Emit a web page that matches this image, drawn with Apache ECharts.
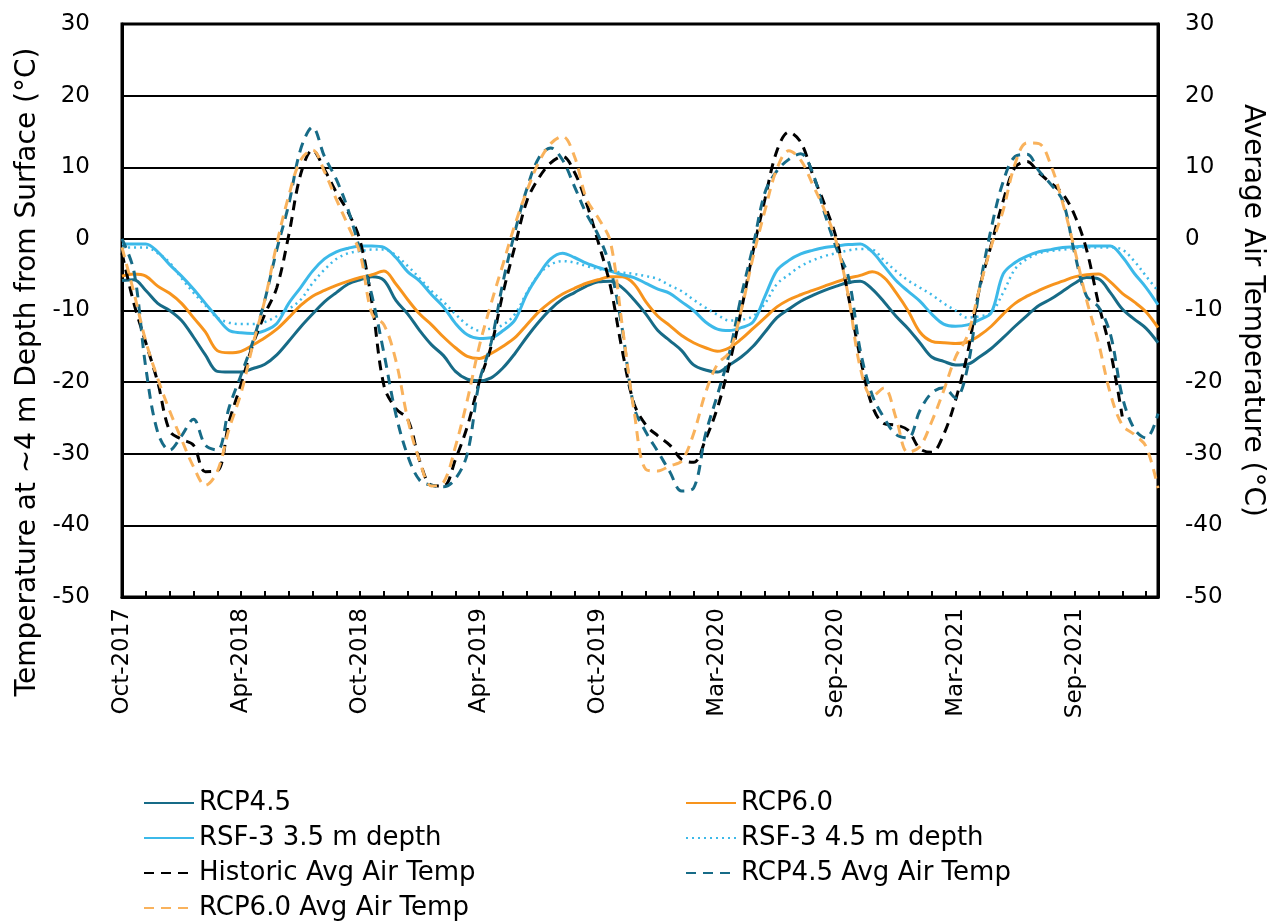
<!DOCTYPE html>
<html>
<head>
<meta charset="utf-8">
<script src="https://cdn.jsdelivr.net/npm/echarts@6/dist/echarts.min.js"></script>
<style>
html,body{margin:0;padding:0;background:#fff;}
#chart{width:1278px;height:924px;}
</style>
</head>
<body>
<div id="chart"></div>
<script>
// Tick labels shown every 10 categories (half-tick sampling)
const tickLabels = ['Oct-2017','Apr-2018','Oct-2018','Apr-2019','Oct-2019','Mar-2020','Sep-2020','Mar-2021','Sep-2021'];
const nPoints = 88;
const categories = Array.from({length: nPoints}, (_, i) => 'p' + i);

const rcp45 = [-5.8,-5.7,-7.2,-9,-10,-11.4,-13.7,-16.2,-18.5,-18.6,-18.6,-18.1,-17.5,-16.2,-14.3,-12.3,-10.5,-8.8,-7.5,-6.3,
  -5.7,-5.3,-5.8,-8.6,-10.5,-12.8,-14.8,-16.3,-18.5,-19.6,-19.8,-19.4,-18,-16,-13.7,-11.6,-9.8,-8.4,-7.5,-6.6,
  -6.0,-5.9,-6.8,-8.5,-10.5,-12.8,-14.2,-15.6,-17.6,-18.3,-18.6,-17.6,-16.5,-15,-13,-11,-9.8,-8.7,-7.9,-7.2,
  -6.6,-6.1,-5.9,-7,-8.8,-10.8,-12.5,-14.5,-16.5,-17.1,-17.6,-17.5,-16.5,-15.3,-13.8,-12.2,-10.7,-9.3,-8.4,-7.3,
  -6.2,-5.4,-5.6,-7.5,-9.8,-11.2,-12.5,-14.5];
const rcp60 = [-5.2,-4.9,-5.2,-6.6,-7.6,-9,-11,-13,-15.6,-15.9,-15.7,-14.8,-13.8,-12.6,-11,-9.3,-8,-7.2,-6.5,-5.9,
  -5.4,-5,-4.5,-6.3,-8.5,-10.5,-12,-13.7,-15.2,-16.4,-16.7,-16,-15,-13.8,-12,-10.2,-8.8,-7.7,-6.9,-6.2,
  -5.7,-5.3,-5.3,-6.3,-8.8,-10.8,-12.1,-13.5,-14.5,-15.2,-15.7,-15.2,-14,-12.5,-11,-9.5,-8.5,-7.8,-7.2,-6.6,
  -6,-5.5,-5.1,-4.6,-5.4,-7.5,-10,-13,-14.3,-14.5,-14.6,-14.4,-13.5,-12.2,-10.5,-9,-8,-7.2,-6.5,-5.9,
  -5.3,-5,-4.9,-6,-7.6,-8.8,-10.2,-12.4];
const rsf35 = [-0.7,-0.7,-0.7,-1.8,-3.6,-5.2,-7,-9,-11,-12.8,-13.1,-13.2,-12.8,-11.8,-9,-6.8,-4.5,-2.8,-1.8,-1.3,
  -1,-1,-1.2,-2.6,-4.6,-5.9,-7.8,-9.5,-11.8,-13.4,-13.9,-13.8,-12.8,-11.3,-7.7,-5,-2.8,-2,-2.6,-3.4,
  -4,-4.5,-5,-5.4,-6.2,-7,-7.6,-8.8,-10,-11.6,-12.6,-12.8,-12.4,-11.6,-8,-4.4,-3,-2.1,-1.6,-1.2,
  -1,-0.8,-0.7,-1.8,-3.8,-5.8,-7.3,-8.7,-10.5,-11.9,-12.2,-12,-11.3,-10.3,-4.9,-3.3,-2.4,-1.8,-1.5,-1.2,
  -1.1,-1,-1,-1,-2.5,-4.8,-6.8,-9.2];
const rsf45 = [-1.2,-1.2,-1.2,-2,-3.3,-5.5,-7.5,-9.3,-11,-11.7,-11.9,-11.9,-11.6,-10.8,-9.8,-8.5,-6.2,-4.3,-2.8,-2,
  -1.7,-1.5,-1.5,-2.3,-3.8,-5.5,-7.3,-8.8,-10.5,-12,-12.8,-12.5,-12,-10.5,-7.5,-5,-3.6,-3.1,-3.3,-3.8,
  -4.2,-4.5,-4.7,-4.9,-5.2,-5.6,-6.5,-7.3,-8.5,-9.6,-10.6,-11.4,-11.3,-10.8,-9,-6.3,-5,-3.8,-3,-2.4,
  -2,-1.6,-1.4,-1.5,-3,-4.5,-5.8,-6.8,-7.8,-9,-10,-11,-10.8,-10.3,-7.5,-4.2,-2.8,-2,-1.7,-1.5,
  -1.3,-1.2,-1.2,-1.2,-1.5,-3.1,-5.2,-7.3];
const historicAir = [-2,-9,-14.5,-20,-26.8,-28,-28.8,-32.5,-32.4,-25.5,-20.3,-14.7,-10.5,-6.8,0.5,9,12.4,9.7,6.5,3.7,
  -0.3,-9,-20.5,-23.7,-25.2,-31,-34.4,-34.5,-30.8,-26.2,-20,-15,-7.5,-1,5.3,8.5,10.6,11.5,9.3,5,
  -0.5,-6.5,-15.5,-23,-26,-27.5,-28.8,-30.8,-31.2,-28,-23.6,-17.5,-10,-1.7,5.6,12.3,14.9,13.5,9,4.8,
  0,-8,-16.6,-23.3,-25.8,-26,-26.7,-29.3,-29.8,-27.3,-22.5,-16,-7,-0.8,5.3,10,10.8,9.2,7.8,6.3,
  3.3,-1.5,-9,-15.6,-24.8,null,null,null];
const rcp45Air = [0,-4.5,-18,-27,-29.5,-27.5,-25.2,-28.8,-29.5,-23.5,-19,-14.3,-8.5,-1.5,4.8,12.5,15.6,11.5,8.3,4,
  -1.7,-8,-16,-24.5,-30.3,-33.7,-34.4,-34.6,-33.5,-30,-20,-14.5,-6,1,7,11.3,12.7,11,7.3,3.5,
  0.5,-4,-12.5,-23.5,-27,-29.7,-32.5,-35.2,-34.8,-27.3,-21.8,-16,-8,-1,6.5,9.5,11.1,11.9,9.2,3.6,
  -1.3,-5.3,-15.6,-21.8,-25,-27.3,-27.8,-24,-21.5,-20.8,-22.2,-18,-7,1.5,8,11.5,11.8,9.5,7.6,5.3,
  -2,-8,-9.5,-13.3,-22,-26.5,-27.8,-24.4];
const rcp60Air = [-1.2,-7.5,-14.3,-19.5,-24,-28,-31.8,-34.4,-32.5,-26.5,-21.5,-14.7,-8.5,-0.7,6,11,12.4,9.4,5.5,1.8,
  -2.1,-10.5,-12,-17,-25.2,-31,-34.5,-34,-29,-22.5,-15,-9,-3.5,2,6.7,10.7,13.3,14.3,11.5,5.6,
  2.9,-0.3,-12,-24,-32.2,-32.4,-31.7,-31,-27.2,-21.5,-17.5,-15.8,-10,-2.5,4,9.8,12.3,11,7.6,4,
  -0.5,-8,-18,-22,-20.8,-25,-29.8,-29,-25.5,-21.2,-16.5,-13.5,-7,-1,4,10.5,13.4,13.3,10.3,5,
  -1.5,-8.5,-14.5,-21.6,-26,-27.3,-29,-34.8];

const FONT = 'DejaVu Sans';
const TEAL = '#176b87', ORANGE = '#f7941d', LBLUE = '#3cb9e9', LORANGE = '#f9b25c';

const chart = echarts.init(document.getElementById('chart'), null, {renderer: 'canvas'});

function lineSeries(name, data, color, type, yIdx, width) {
  return {
    name, type: 'line', data, yAxisIndex: yIdx, showSymbol: false, symbol: 'none',
    smooth: 0.35, connectNulls: false,
    lineStyle: {color, width: width || 3, type},
    itemStyle: {color},
    emphasis: {disabled: true}
  };
}

const legendText = {fontFamily: FONT, fontSize: 26, color: '#000', lineHeight: 26};
const legendCommon = {
  orient: 'vertical', top: 790, height: 160, itemWidth: 50, itemHeight: 14, itemGap: 9,
  textStyle: legendText, selectedMode: false, padding: 0,
  itemStyle: {opacity: 0}
};

chart.setOption({
  animation: false,
  backgroundColor: '#fff',
  grid: {left: 122, right: 120, top: 24, bottom: 327, show: true, borderColor: '#000', borderWidth: 3, backgroundColor: 'transparent'},
  xAxis: {
    type: 'category', data: categories, boundaryGap: false,
    axisLine: {onZero: false, lineStyle: {color: '#000', width: 3}},
    axisTick: {show: true, inside: true, interval: 1, length: 6, lineStyle: {color: '#000', width: 2}},
    axisLabel: {
      interval: 9, rotate: 90, margin: 11,
      fontFamily: FONT, fontSize: 23, color: '#000',
      formatter: (v, idx) => (idx % 10 === 0 ? (tickLabels[idx / 10] || '') : '')
    },
    splitLine: {show: false}
  },
  yAxis: [
    {
      type: 'value', min: -50, max: 30, interval: 10, position: 'left',
      axisLine: {show: true, lineStyle: {color: '#000', width: 3}},
      axisTick: {show: false},
      axisLabel: {fontFamily: FONT, fontSize: 23, color: '#000', margin: 32},
      splitLine: {show: true, lineStyle: {color: '#000', width: 2}}
    },
    {
      type: 'value', min: -50, max: 30, interval: 10, position: 'right',
      name: 'Average Air Temperature (°C)', nameLocation: 'middle', nameGap: 80, nameRotate: -90,
      nameTextStyle: {fontFamily: FONT, fontSize: 28, color: '#000'},
      axisLine: {show: true, lineStyle: {color: '#000', width: 3}},
      axisTick: {show: false},
      axisLabel: {fontFamily: FONT, fontSize: 23, color: '#000', margin: 27},
      splitLine: {show: false}
    }
  ],
  graphic: [{
    type: 'text', x: 28, y: 372, rotation: Math.PI / 2,
    style: {text: 'Temperature at ~4 m Depth from Surface (°C)', fontFamily: FONT, fontSize: 28, fill: '#000', align: 'center', verticalAlign: 'middle'}
  }],
  legend: [
    Object.assign({}, legendCommon, {
      left: 143,
      data: ['RCP4.5', 'RSF-3 3.5 m depth', 'Historic Avg Air Temp', 'RCP6.0 Avg Air Temp']
    }),
    Object.assign({}, legendCommon, {
      left: 685,
      data: ['RCP6.0', 'RSF-3 4.5 m depth', 'RCP4.5 Avg Air Temp']
    })
  ],
  series: [
    lineSeries('RCP4.5', rcp45, TEAL, 'solid', 0),
    lineSeries('RCP6.0', rcp60, ORANGE, 'solid', 0),
    lineSeries('RSF-3 3.5 m depth', rsf35, LBLUE, 'solid', 0),
    lineSeries('RSF-3 4.5 m depth', rsf45, LBLUE, [2, 4], 0, 2.5),
    lineSeries('Historic Avg Air Temp', historicAir, '#000', [10, 7], 1),
    lineSeries('RCP4.5 Avg Air Temp', rcp45Air, TEAL, [10, 7], 1),
    lineSeries('RCP6.0 Avg Air Temp', rcp60Air, LORANGE, [10, 7], 1)
  ]
});
</script>
</body>
</html>
